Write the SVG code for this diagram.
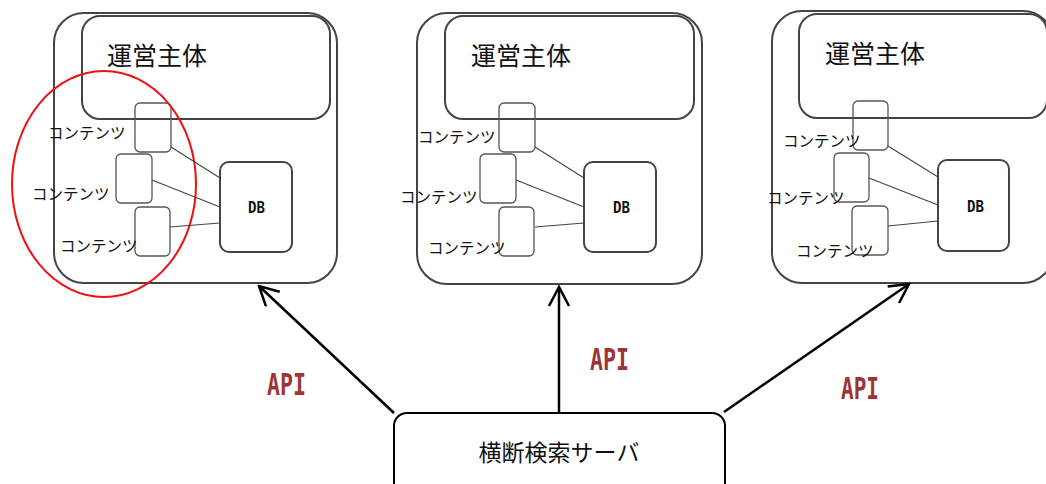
<svg xmlns="http://www.w3.org/2000/svg" width="1046" height="484" viewBox="0 0 1046 484">
<style>
.outer{fill:none;stroke:#444;stroke-width:2}
.inner{fill:none;stroke:#444;stroke-width:2}
.cont{fill:none;stroke:#555;stroke-width:1.3}
.db{fill:none;stroke:#444;stroke-width:2}
.link{stroke:#444;stroke-width:1.1;fill:none}
.title{font-family:"Noto Sans CJK JP","Noto Sans",sans-serif;font-size:25px;fill:#111}
.lbl{font-family:"Noto Sans CJK JP","Noto Sans",sans-serif;font-size:15.5px;fill:#111}
.dbt{font-family:"DejaVu Sans Mono","Liberation Mono",monospace;font-weight:bold;font-size:15px;fill:#111}
.api{font-family:"DejaVu Sans Mono","Liberation Mono",monospace;font-weight:bold;font-size:30px;fill:#9e3535}
.arrow{stroke:#000;stroke-width:2.5;fill:none}
</style>
<defs>
<marker id="ah" markerUnits="userSpaceOnUse" viewBox="0 0 22 22" markerWidth="22" markerHeight="22" refX="20" refY="11" orient="auto">
<path d="M1,1 L20,11 L1,21" fill="none" stroke="#000" stroke-width="2.5"/>
</marker>
</defs>

<g id="org1">
<rect class="outer" x="54" y="13" width="283" height="270" rx="30"/>
<rect class="inner" x="82" y="16" width="248" height="103" rx="18"/>
<text class="title" x="107" y="65">運営主体</text>
<rect class="cont" x="135" y="103" width="36" height="49" rx="5"/>
<rect class="cont" x="116" y="154" width="36" height="49" rx="5"/>
<rect class="cont" x="135" y="207" width="35" height="49" rx="5"/>
<rect class="db" x="220" y="162" width="72" height="90" rx="9"/>
<text class="dbt" x="248" y="213" textLength="17" lengthAdjust="spacingAndGlyphs">DB</text>
<text class="lbl" x="48" y="139">コンテンツ</text>
<text class="lbl" x="32" y="199.5">コンテンツ</text>
<text class="lbl" x="60" y="251.5">コンテンツ</text>
</g>

<g id="org2">
<rect class="outer" x="417" y="13" width="285" height="271" rx="30"/>
<rect class="inner" x="445" y="16" width="249" height="103" rx="18"/>
<text class="title" x="471" y="65">運営主体</text>
<rect class="cont" x="499" y="103" width="36" height="49" rx="5"/>
<rect class="cont" x="480" y="154" width="36" height="49" rx="5"/>
<rect class="cont" x="499" y="207" width="35" height="49" rx="5"/>
<rect class="db" x="584" y="162" width="72" height="90" rx="9"/>
<text class="dbt" x="613" y="213" textLength="17" lengthAdjust="spacingAndGlyphs">DB</text>
<text class="lbl" x="418" y="142.5">コンテンツ</text>
<text class="lbl" x="400" y="202.5">コンテンツ</text>
<text class="lbl" x="428" y="253.5">コンテンツ</text>
</g>

<g id="org3">
<rect class="outer" x="772" y="11" width="281" height="272" rx="30"/>
<rect class="inner" x="799" y="14" width="248" height="104" rx="18"/>
<text class="title" x="825" y="63">運営主体</text>
<rect class="cont" x="853" y="101" width="35" height="49" rx="5"/>
<rect class="cont" x="834" y="153" width="35" height="49" rx="5"/>
<rect class="cont" x="852" y="206" width="36" height="49" rx="5"/>
<rect class="db" x="938" y="160" width="71" height="91" rx="9"/>
<text class="dbt" x="967" y="212" textLength="17" lengthAdjust="spacingAndGlyphs">DB</text>
<text class="lbl" x="783" y="146.5">コンテンツ</text>
<text class="lbl" x="767" y="203.5">コンテンツ</text>
<text class="lbl" x="796" y="256.5">コンテンツ</text>
</g>

<g id="server">
<rect x="394" y="413" width="331" height="90" rx="13" fill="none" stroke="#000" stroke-width="2"/>
<text x="559" y="461" text-anchor="middle" style="font-family:'Noto Sans CJK JP','Noto Sans',sans-serif;font-size:23px;fill:#111">横断検索サーバ</text>
</g>

<g id="highlight">
<ellipse cx="104" cy="184" rx="92" ry="113" fill="none" stroke="#ee1111" stroke-width="2"/>
</g>

<g id="connectors">
<line class="link" x1="171" y1="147" x2="220" y2="178"/>
<line class="link" x1="152" y1="180" x2="220" y2="207"/>
<line class="link" x1="170" y1="227" x2="220" y2="223"/>
<line class="link" x1="535" y1="147" x2="584" y2="178"/>
<line class="link" x1="516" y1="180" x2="584" y2="207"/>
<line class="link" x1="535" y1="227" x2="584" y2="223"/>
<line class="link" x1="888" y1="146" x2="938" y2="177"/>
<line class="link" x1="869" y1="178" x2="938" y2="205"/>
<line class="link" x1="888" y1="226" x2="938" y2="221"/>
<line class="arrow" x1="394" y1="413" x2="259" y2="286" marker-end="url(#ah)"/>
<line class="arrow" x1="559" y1="413" x2="559" y2="287" marker-end="url(#ah)"/>
<line class="arrow" x1="724" y1="412" x2="909" y2="284" marker-end="url(#ah)"/>
<text class="api" x="267" y="395" textLength="39" lengthAdjust="spacingAndGlyphs">API</text>
<text class="api" x="590" y="370" textLength="39" lengthAdjust="spacingAndGlyphs">API</text>
<text class="api" x="841" y="399" textLength="38" lengthAdjust="spacingAndGlyphs">API</text>
</g>
</svg>
